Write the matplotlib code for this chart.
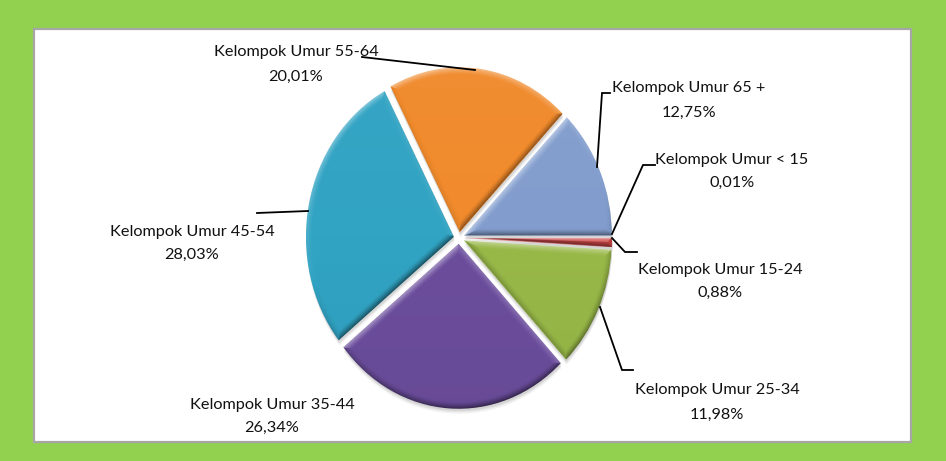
import numpy as np
import matplotlib
matplotlib.use("Agg")
import matplotlib.pyplot as plt
from matplotlib.colors import to_rgb
from matplotlib.patches import Rectangle

# Share of each age group (percent), in clockwise order from 3 o'clock
categories = ["Kelompok Umur < 15", "Kelompok Umur 15-24", "Kelompok Umur 25-34",
              "Kelompok Umur 35-44", "Kelompok Umur 45-54", "Kelompok Umur 55-64",
              "Kelompok Umur 65 +"]
shares = [0.01, 0.88, 11.98, 26.34, 28.03, 20.01, 12.75]
colors = ["#4F81BD", "#D04848", "#98B848", "#6B4D9C", "#31A3C3", "#F08A2C", "#829DCD"]

# Label layout (pixel coords): text centre x, first-line y, second-line y
label_pos = [(732, 160, 183), (720, 270, 293), (717, 390, 415), (272, 405, 428),
             (192, 232, 255), (296, 52, 77), (689, 88, 113)]
leaders = [[(612, 234), (643, 165), (655, 165)],
           [(612, 238), (625, 252), (637, 252)],
           [(600, 307), (622, 370), (633, 370)],
           None,
           [(257, 213), (308, 211)],
           [(362, 57), (475, 70)],
           [(597, 167), (602, 93), (610, 93)]]

W, H = 946, 461
FONT = ["Lato", "DejaVu Sans"]


def bevel_image(w, base, n=280, band=0.045):
    """RGB image of a slice with a bevelled rim lit from above."""
    base = np.array(to_rgb(base))
    ext = w.get_path().get_extents()
    xs = np.linspace(ext.x0, ext.x1, n)
    ys = np.linspace(ext.y0, ext.y1, n)
    X, Y = np.meshgrid(xs, ys)
    u = X - w.center[0]
    v = Y - w.center[1]
    r = np.hypot(u, v)
    ang = np.degrees(np.arctan2(v, u))
    t1, t2 = w.theta1, w.theta2
    span = t2 - t1
    a = (ang - t1) % 360
    d_arc = w.r - r
    d1 = r * np.sin(np.radians(np.clip(a, 0, 90)))
    d2 = r * np.sin(np.radians(np.clip(span - a, 0, 90)))
    # outward normals of the three edges
    na = np.stack([np.cos(np.radians(ang)), np.sin(np.radians(ang))], -1)
    n1 = np.array([np.cos(np.radians(t1 - 90)), np.sin(np.radians(t1 - 90))])
    n2 = np.array([np.cos(np.radians(t2 + 90)), np.sin(np.radians(t2 + 90))])
    light = np.array([-0.3, 0.95])
    light = light / np.linalg.norm(light)
    dots = np.stack([na @ light,
                     np.full(r.shape, n1 @ light),
                     np.full(r.shape, n2 @ light)], -1)
    dist = np.stack([d_arc, d1, d2], -1)
    k = np.argmin(dist, -1)
    dmin = np.take_along_axis(dist, k[..., None], -1)[..., 0]
    dsel = np.take_along_axis(dots, k[..., None], -1)[..., 0]
    f = np.clip(1 - dmin / band, 0, 1) ** 1.4
    s = f * dsel
    # gentle overall top-to-bottom falloff
    s = s + 0.06 * (Y - w.center[1])
    s = s[..., None]
    rgb = np.where(s > 0, base + (1 - base) * s * 0.45, base * (1 + s * 0.5))
    return np.clip(rgb, 0, 1), [ext.x0, ext.x1, ext.y0, ext.y1]


fig = plt.figure(figsize=(W / 100, H / 100), dpi=100)
fig.patch.set_facecolor("#92D050")

# white chart panel on the green frame
bg = fig.add_axes([0, 0, 1, 1])
bg.set_xlim(0, W)
bg.set_ylim(H, 0)
bg.axis("off")
bg.add_patch(Rectangle((34, 29), 877, 413, facecolor="white",
                       edgecolor="#A6A6A6", lw=1.6))

# pie axes: one data unit = rx px across, ry px down
cx, cy, rx, ry = 459, 238, 148, 165
pa = fig.add_axes([0, 0, 1, 1])
pa.patch.set_alpha(0)
explode = [0.035] * len(shares)

# soft drop shadow under the slices
for off, al in [(0.03, 0.08), (0.02, 0.1), (0.012, 0.12)]:
    sh, _ = pa.pie(shares, colors=["#606060"] * len(shares), startangle=0,
                   counterclock=False, explode=explode, center=(0.004, -off),
                   wedgeprops=dict(linewidth=0, alpha=al))
    for w in sh:
        w.set_zorder(0.5)

wedges, _ = pa.pie(shares, colors=colors, startangle=0, counterclock=False,
                   explode=explode, wedgeprops=dict(linewidth=0))

for w, c in zip(wedges, colors):
    img, extent = bevel_image(w, c)
    im = pa.imshow(img, extent=extent, origin="lower", aspect="auto",
                   interpolation="bilinear", zorder=1)
    im.set_clip_path(w)
    w.set_facecolor("none")
    w.set_edgecolor("none")
    w.set_zorder(2)

pa.set_aspect("auto")
pa.set_xlim(-cx / rx, (W - cx) / rx)
pa.set_ylim((cy - H) / ry, cy / ry)
pa.axis("off")

# labels and leader lines in pixel coords
ov = fig.add_axes([0, 0, 1, 1])
ov.patch.set_alpha(0)
ov.set_xlim(0, W)
ov.set_ylim(H, 0)
ov.axis("off")
for name, val, (lx, ly1, ly2), lead in zip(categories, shares, label_pos, leaders):
    pct = f"{val:.2f}".replace(".", ",") + "%"
    ov.text(lx, ly1, name, ha="center", va="center", fontsize=11.7,
            family=FONT, color="#111111")
    ov.text(lx, ly2, pct, ha="center", va="center", fontsize=11.7,
            family=FONT, color="#111111")
    if lead:
        xs, ys = zip(*lead)
        ov.plot(xs, ys, color="black", lw=1.3, solid_joinstyle="miter")

fig.savefig("out.png", dpi=100, facecolor=fig.get_facecolor())
